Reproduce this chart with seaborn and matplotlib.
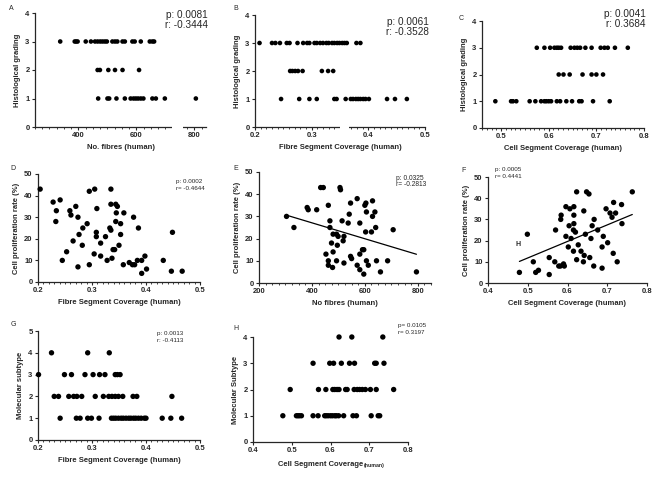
import matplotlib
matplotlib.use("Agg")
import matplotlib.pyplot as plt
import seaborn as sns
import pandas as pd
from matplotlib.ticker import MultipleLocator, NullLocator
from matplotlib.patches import Rectangle

# ---------------- data ----------------
# A: No. fibres vs histological grading
a_fibres_g3 = [337, 387, 392, 397, 425, 443, 457, 466, 475, 483, 491, 498, 517, 526, 534, 552, 560, 586, 594, 615, 646, 655, 661]
a_fibres_g2 = [466, 474, 503, 526, 552, 609]
a_fibres_g1 = [468, 500, 506, 531, 560, 580, 590, 598, 606, 615, 624, 655, 667, 698, 805]

# B: Fibre segment coverage vs histological grading
b_fsc_g3 = [0.208, 0.230, 0.236, 0.244, 0.256, 0.261, 0.275, 0.285, 0.292, 0.296, 0.305, 0.309, 0.315, 0.320,
            0.326, 0.330, 0.336, 0.340, 0.345, 0.349, 0.354, 0.358, 0.362, 0.379, 0.386]
b_fsc_g2 = [0.262, 0.266, 0.271, 0.276, 0.284, 0.318, 0.329, 0.338]
b_fsc_g1 = [0.246, 0.278, 0.296, 0.309, 0.340, 0.344, 0.360, 0.369, 0.373, 0.378, 0.382, 0.386, 0.391, 0.395,
            0.401, 0.433, 0.447, 0.468]

# C: Cell segment coverage vs histological grading
c_csc_g3 = [0.575, 0.591, 0.603, 0.612, 0.617, 0.621, 0.626, 0.646, 0.654, 0.660, 0.666, 0.677, 0.690, 0.709,
            0.717, 0.724, 0.739, 0.766]
c_csc_g2 = [0.621, 0.631, 0.644, 0.671, 0.690, 0.700, 0.714]
c_csc_g1 = [0.488, 0.521, 0.525, 0.532, 0.560, 0.572, 0.584, 0.591, 0.595, 0.600, 0.605, 0.617, 0.624, 0.637,
            0.649, 0.664, 0.669, 0.693, 0.728]

# D: Fibre segment coverage vs cell proliferation rate
d_fsc = [0.204, 0.228, 0.241, 0.234, 0.233, 0.259, 0.261, 0.270, 0.274, 0.245, 0.253, 0.265, 0.276, 0.282,
         0.283, 0.291, 0.274, 0.295, 0.305, 0.309, 0.308, 0.308, 0.304, 0.295, 0.316, 0.316, 0.325, 0.328,
         0.335, 0.335, 0.333, 0.335, 0.339, 0.342, 0.337, 0.344, 0.347, 0.345, 0.344, 0.350, 0.353, 0.353,
         0.359, 0.358, 0.369, 0.375, 0.379, 0.377, 0.386, 0.384, 0.392, 0.392, 0.398, 0.401, 0.432, 0.449,
         0.447, 0.467]
d_prolif = [43, 37, 38, 33, 28, 33, 31, 35, 30, 10, 14, 19, 22, 17,
            25, 27, 7, 42, 43, 34, 23, 21, 13, 8, 18, 12, 21, 10,
            43, 36, 25, 24, 15, 15, 11, 36, 35, 32, 28, 17, 27, 22,
            32, 8, 9, 8, 8, 30, 25, 10, 10, 4, 12, 6, 10, 23,
            5, 5]

# E: No fibres vs cell proliferation rate
e_fibres = [304, 332, 382, 386, 418, 433, 443, 462, 468, 468, 453, 462, 462, 478, 474, 480, 480, 493, 496,
            499, 493, 506, 508, 514, 518, 521, 521, 537, 541, 546, 546, 550, 571, 571, 581, 581, 581, 591,
            596, 596, 600, 603, 604, 606, 606, 613, 625, 629, 629, 638, 641, 644, 659, 686, 707, 795]
e_prolif = [30, 25, 34, 33, 33, 43, 43, 35, 25, 28, 13, 10, 8, 7, 18, 14, 22, 22, 17,
            21, 10, 43, 42, 28, 19, 21, 9, 27, 31, 36, 12, 11, 38, 8, 13, 6, 27, 15,
            15, 4, 35, 23, 36, 32, 10, 8, 23, 30, 37, 32, 25, 10, 5, 10, 24, 5]

# F: Cell segment coverage vs cell proliferation rate
f_csc = [0.479, 0.499, 0.514, 0.520, 0.527, 0.554, 0.554, 0.568, 0.570, 0.578, 0.582, 0.583, 0.584, 0.590,
         0.592, 0.596, 0.596, 0.602, 0.604, 0.606, 0.609, 0.615, 0.615, 0.616, 0.616, 0.616, 0.620, 0.623,
         0.623, 0.627, 0.634, 0.640, 0.641, 0.642, 0.645, 0.648, 0.654, 0.656, 0.659, 0.662, 0.667, 0.666,
         0.676, 0.687, 0.687, 0.690, 0.697, 0.701, 0.707, 0.712, 0.715, 0.716, 0.721, 0.725, 0.736, 0.737,
         0.763]
f_prolif = [5, 23, 10, 5, 6, 12, 4, 10, 25, 8, 8, 30, 32, 9,
            8, 36, 22, 17, 27, 35, 21, 15, 25, 32, 36, 28, 24, 43,
            11, 18, 15, 10, 34, 13, 23, 43, 42, 12, 21, 27, 30, 8,
            25, 7, 17, 22, 35, 19, 33, 31, 14, 38, 33, 10, 37, 28,
            43]

# G: Fibre segment coverage vs molecular subtype
g_fsc_s4 = [0.225, 0.292, 0.332]
g_fsc_s3 = [0.201, 0.249, 0.262, 0.287, 0.302, 0.314, 0.324, 0.343, 0.347, 0.352]
g_fsc_s2 = [0.230, 0.238, 0.257, 0.266, 0.272, 0.281, 0.306, 0.321, 0.331, 0.337, 0.343, 0.349, 0.357,
            0.376, 0.383, 0.448]
g_fsc_s1 = [0.241, 0.271, 0.278, 0.292, 0.299, 0.313, 0.336, 0.340, 0.344, 0.349, 0.354, 0.358, 0.363,
            0.368, 0.372, 0.377, 0.381, 0.386, 0.391, 0.397, 0.400, 0.430, 0.446, 0.466]

# H: Cell segment coverage vs molecular subtype
h_csc_s4 = [0.622, 0.655, 0.735]
h_csc_s3 = [0.555, 0.598, 0.608, 0.628, 0.649, 0.662, 0.714, 0.718, 0.738]
h_csc_s2 = [0.496, 0.569, 0.588, 0.606, 0.611, 0.617, 0.622, 0.639, 0.643, 0.661, 0.669, 0.675, 0.682,
            0.690, 0.703, 0.718, 0.763]
h_csc_s1 = [0.477, 0.512, 0.516, 0.520, 0.525, 0.555, 0.568, 0.585, 0.589, 0.594, 0.600, 0.605, 0.611,
            0.615, 0.621, 0.634, 0.658, 0.667, 0.705, 0.723, 0.727]


def levels(groups):
    xs, ys = [], []
    for lvl, vals in groups:
        xs += vals
        ys += [lvl] * len(vals)
    return pd.DataFrame({"x": xs, "y": ys})


df_a = levels([(3, a_fibres_g3), (2, a_fibres_g2), (1, a_fibres_g1)])
df_b = levels([(3, b_fsc_g3), (2, b_fsc_g2), (1, b_fsc_g1)])
df_c = levels([(3, c_csc_g3), (2, c_csc_g2), (1, c_csc_g1)])
df_d = pd.DataFrame({"x": d_fsc, "y": d_prolif})
df_e = pd.DataFrame({"x": e_fibres, "y": e_prolif})
df_f = pd.DataFrame({"x": f_csc, "y": f_prolif})
df_g = levels([(4, g_fsc_s4), (3, g_fsc_s3), (2, g_fsc_s2), (1, g_fsc_s1)])
df_h = levels([(4, h_csc_s4), (3, h_csc_s3), (2, h_csc_s2), (1, h_csc_s1)])

# ---------------- style ----------------
sns.set_style("ticks")
plt.rcParams["font.family"] = ["Liberation Sans", "DejaVu Sans"]
plt.rcParams["font.weight"] = "bold"
plt.rcParams["axes.labelweight"] = "bold"
plt.rcParams["axes.linewidth"] = 0.9

W, H = 669, 478
fig = plt.figure(figsize=(W / 100, H / 100), dpi=100)


def px_axes(l, t, r, b):
    return fig.add_axes([l / W, 1 - b / H, (r - l) / W, (b - t) / H])


LAB = 5.5


def style(ax, xlim, ylim, xmajor, ymajor, xminor=None, xlabel="", ylabel=""):
    ax.set_xlim(*xlim)
    ax.set_ylim(*ylim)
    ax.xaxis.set_major_locator(MultipleLocator(xmajor))
    ax.yaxis.set_major_locator(MultipleLocator(ymajor))
    if xminor:
        ax.xaxis.set_minor_locator(MultipleLocator(xminor))
    else:
        ax.xaxis.set_minor_locator(NullLocator())
    ax.yaxis.set_minor_locator(NullLocator())
    sns.despine(ax=ax)
    ax.tick_params(axis="both", which="major", length=2.4, width=0.8, labelsize=LAB, pad=1.5)
    ax.tick_params(axis="x", which="minor", length=1.4, width=0.6)
    ax.set_xlabel(xlabel, fontsize=LAB, fontweight="bold", labelpad=3)
    ax.set_ylabel(ylabel, fontsize=LAB, fontweight="bold", labelpad=3)


def dots(ax, df, s):
    sns.scatterplot(data=df, x="x", y="y", ax=ax, color="black", s=s, edgecolor="none", legend=False,
                    clip_on=False, zorder=3)


def gap(ax, x0, x1):
    ax.add_patch(Rectangle((x0, -0.08), x1 - x0, 0.1, transform=ax.get_xaxis_transform(),
                           facecolor="white", edgecolor="none", clip_on=False, zorder=10))


def ftext(x, y, s, size, ha="left", weight="normal"):
    fig.text(x / W, 1 - y / H, s, fontsize=size, ha=ha, va="center", fontweight=weight)


# A
ax = px_axes(35, 13, 206, 127)
dots(ax, df_a, 11)
style(ax, (250, 840), (0, 4), 200, 1, 25, "No. fibres (human)", "Histological grading")
gap(ax, 722, 760)

# B
ax = px_axes(255, 15, 425, 127)
dots(ax, df_b, 11)
style(ax, (0.2, 0.5), (0, 4), 0.1, 1, 0.01, "Fibre Segment Coverage (human)", "Histological grading")
gap(ax, 0.3505, 0.3665)

# C
ax = px_axes(482, 21, 644, 128)
dots(ax, df_c, 11)
style(ax, (0.46, 0.8), (0, 4), 0.1, 1, 0.01, "Cell Segment Coverage (human)", "Histological grading")

# D
ax = px_axes(38, 174, 200, 282)
dots(ax, df_d, 15)
style(ax, (0.2, 0.5), (0, 50), 0.1, 10, 0.01, "Fibre Segment Coverage (human)", "Cell proliferation rate (%)")

# E
ax = px_axes(259, 172, 431, 283)
dots(ax, df_e, 15)
sns.regplot(data=df_e, x="x", y="y", ax=ax, scatter=False, ci=None, color="black",
            line_kws=dict(lw=0.9))
style(ax, (200, 850), (0, 50), 200, 10, 25, "No fibres (human)", "Cell proliferation rate (%)")

# F
ax = px_axes(488, 177, 647, 283)
dots(ax, df_f, 15)
sns.regplot(data=df_f, x="x", y="y", ax=ax, scatter=False, ci=None, color="black",
            line_kws=dict(lw=0.9))
style(ax, (0.4, 0.8), (0, 50), 0.1, 10, None, "Cell Segment Coverage (human)", "Cell proliferation rate (%)")

# G
ax = px_axes(38, 331, 200, 440)
dots(ax, df_g, 15)
style(ax, (0.2, 0.5), (0, 5), 0.1, 1, 0.01, "Fibre Segment Coverage (human)", "Molecular subtype")

# H
ax = px_axes(253, 337, 408, 442)
dots(ax, df_h, 15)
style(ax, (0.4, 0.8), (0, 4), 0.1, 1, None, "", "Molecular Subtype")
ftext(363, 465, "Cell Segment Coverage", LAB, ha="right", weight="bold")
ftext(364, 465, "(human)", 3.8, ha="left", weight="bold")

# statistics annotations
ftext(208, 15, "p: 0.0081", 7.2, ha="right")
ftext(208, 25, "r: -0.3444", 7.2, ha="right")
ftext(429, 22, "p: 0.0061", 7.2, ha="right")
ftext(429, 32, "r: -0.3528", 7.2, ha="right")
ftext(646, 14, "p: 0.0041", 7.2, ha="right")
ftext(646, 24, "r: 0.3684", 7.2, ha="right")
ftext(176, 181, "p: 0.0002", 4.5)
ftext(176, 188, "r= -0.4644", 4.5)
ftext(396, 178, "p: 0.0325", 4.8)
ftext(396, 185, "r= -0.2813", 4.8)
ftext(495, 170, "p: 0.0005", 4.5)
ftext(495, 177, "r= 0.4441", 4.5)
ftext(157, 333, "p: 0.0013", 4.5)
ftext(157, 341, "r: -0.4113", 4.5)
ftext(398, 325, "p= 0.0105", 4.5)
ftext(398, 332, "r= 0.3197", 4.5)

# panel letters
for letter, x, y in [("A", 9, 8), ("B", 233, 8), ("C", 459, 18), ("D", 10, 169),
                     ("E", 233, 168), ("F", 461, 170), ("G", 11, 325), ("H", 233, 328)]:
    ftext(x, y, letter, 5)
ftext(515, 245, "H", 5, weight="bold")

fig.savefig("out.png", dpi=100)
